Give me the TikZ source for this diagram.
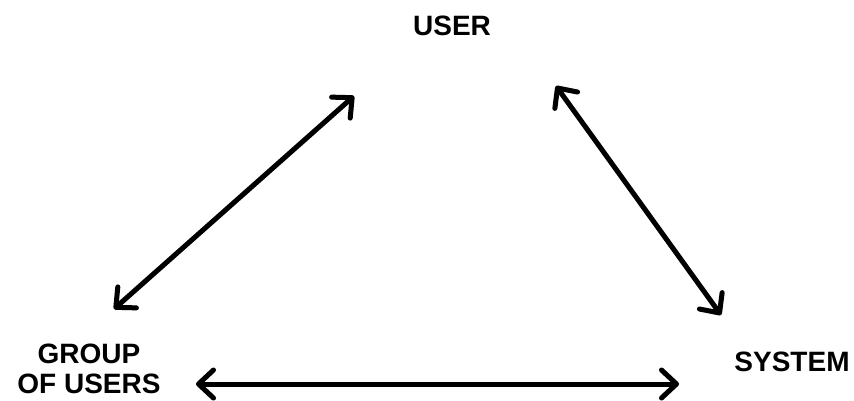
\documentclass[tikz,border=0pt]{standalone}
\usepackage{fontspec}
\setmainfont{Liberation Sans}
\usetikzlibrary{arrows.meta}
\begin{document}
\begin{tikzpicture}[x=1pt,y=-1pt,
  lbl/.style={font=\bfseries\fontsize{28}{30}\selectfont, align=center, inner sep=0pt},
  dbl/.style={line width=5pt, line cap=round,
    {Straight Barb[length=15pt,width=28pt,line cap=round,line join=round]}-{Straight Barb[length=15pt,width=28pt,line cap=round,line join=round]}},
  shd/.style={dbl, draw=black!25, opacity=0.5, shift={(2pt,-3pt)}}
]
\useasboundingbox (0,0) rectangle (854,400);
\node[lbl] (user) at (452,26) {USER};
\node[lbl] (group) at (89,369) {GROUP\\OF USERS};
\node[lbl] (system) at (792,362) {SYSTEM};
\coordinate (l1) at (114,309);
\coordinate (l2) at (354,96);
\coordinate (r1) at (556,86);
\coordinate (r2) at (721,315);
\coordinate (b1) at (196,384);
\coordinate (b2) at (679,384);
\draw[shd] (l1) -- (l2);
\draw[shd] (r1) -- (r2);
\draw[shd] (b1) -- (b2);
\draw[dbl] (l1) -- (l2);
\draw[dbl] (r1) -- (r2);
\draw[dbl] (b1) -- (b2);
\end{tikzpicture}
\end{document}
